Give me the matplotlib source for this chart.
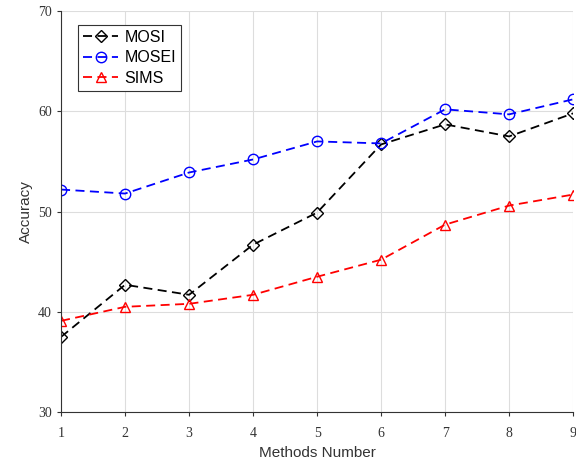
import matplotlib
matplotlib.use("Agg")
from matplotlib import pyplot as plt

methods = [1, 2, 3, 4, 5, 6, 7, 8, 9]
mosi = [37.5, 42.7, 41.7, 46.7, 49.9, 56.7, 58.7, 57.5, 59.8]
mosei = [52.2, 51.8, 53.9, 55.2, 57.0, 56.8, 60.2, 59.7, 61.2]
sims = [39.1, 40.5, 40.8, 41.7, 43.5, 45.2, 48.7, 50.6, 51.7]
yticks = [30, 40, 50, 60, 70]

fig = plt.figure(figsize=(5.76, 4.63), dpi=100)
ax = fig.add_axes([0.106, 0.110, 0.889, 0.866])

DASH = (5, 3)
ax.plot(methods, mosi, "--", dashes=DASH, color="black", marker="D", markersize=6.5,
        markerfacecolor="none", linewidth=1.3, label="MOSI")
ax.plot(methods, mosei, "--", dashes=DASH, color="blue", marker="o", markersize=7.5,
        markerfacecolor="none", linewidth=1.3, label="MOSEI")
ax.plot(methods, sims, "--", dashes=DASH, color="red", marker="^", markersize=7.5,
        markerfacecolor="none", linewidth=1.3, label="SIMS")

ax.set_xlim(1, 9)
ax.set_ylim(30, 70)
ax.set_xticks(methods)
ax.set_yticks(yticks)
ax.grid(True, color="#dddddd", linewidth=0.8)
ax.set_axisbelow(True)

for s in ["top", "right"]:
    ax.spines[s].set_visible(False)
for s in ["left", "bottom"]:
    ax.spines[s].set_color("#333333")

ax.tick_params(direction="out", length=3, colors="#333333", labelsize=10)
for lab in ax.get_xticklabels() + ax.get_yticklabels():
    lab.set_family("Liberation Serif")
ax.tick_params(axis="x", pad=8)

ax.set_xlabel("Methods Number", family="Liberation Sans", fontsize=11, color="#333333", labelpad=4)
ax.set_ylabel("Accuracy", family="Liberation Sans", fontsize=11, color="#333333", labelpad=4)

leg = ax.legend(loc="upper left", bbox_to_anchor=(0.018, 0.985), prop={"family": "Liberation Sans", "size": 11.5},
                fancybox=False, edgecolor="#333333", framealpha=1, handlelength=2.2,
                handletextpad=0.4, borderpad=0.3, labelspacing=0.35)
leg.get_frame().set_linewidth(0.8)

plt.savefig("out.png", dpi=100)
